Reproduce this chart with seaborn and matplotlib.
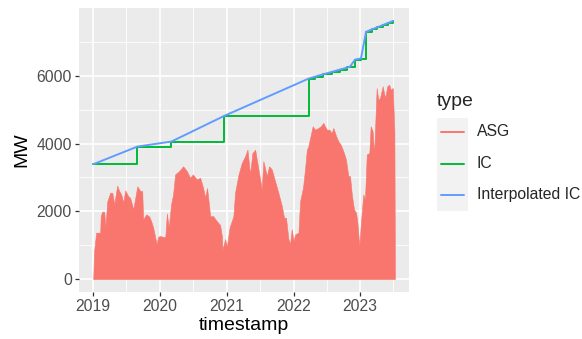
import numpy as np
import pandas as pd
import matplotlib
matplotlib.use("Agg")
import matplotlib.pyplot as plt
import matplotlib.dates as mdates
from matplotlib.lines import Line2D
from matplotlib.patches import Rectangle
import seaborn as sns

# ---------------- data ----------------
asg_dates = [
    "2019-01-01", "2019-01-03", "2019-01-06", "2019-01-17", "2019-02-08", "2019-02-11",
    "2019-02-19", "2019-03-02", "2019-03-08", "2019-03-19", "2019-04-04", "2019-04-15",
    "2019-04-26", "2019-05-12", "2019-05-23", "2019-06-03", "2019-06-14", "2019-06-25",
    "2019-07-11", "2019-07-22", "2019-08-08", "2019-08-30", "2019-09-15", "2019-09-26",
    "2019-10-01", "2019-10-18", "2019-11-03", "2019-11-14", "2019-11-25", "2019-12-14",
    "2019-12-22", "2020-01-02", "2020-01-30", "2020-02-08", "2020-02-18", "2020-03-02",
    "2020-03-13", "2020-03-24", "2020-04-15", "2020-05-07", "2020-05-27", "2020-06-14",
    "2020-06-29", "2020-07-21", "2020-08-08", "2020-08-24", "2020-09-04", "2020-09-15",
    "2020-10-02", "2020-10-18", "2020-11-07", "2020-11-25", "2020-12-05", "2020-12-08",
    "2020-12-23", "2021-01-01", "2021-01-16", "2021-02-06", "2021-02-15", "2021-03-06",
    "2021-03-24", "2021-04-11", "2021-04-24", "2021-05-08", "2021-05-21", "2021-06-05",
    "2021-06-23", "2021-07-11", "2021-07-20", "2021-08-08", "2021-08-20", "2021-09-04",
    "2021-09-22", "2021-10-10", "2021-10-29", "2021-11-10", "2021-11-21", "2021-12-04",
    "2021-12-13", "2021-12-22", "2022-01-01", "2022-01-10", "2022-01-28", "2022-02-06",
    "2022-02-22", "2022-03-05", "2022-03-15", "2022-03-23", "2022-04-02", "2022-04-16",
    "2022-04-29", "2022-05-17", "2022-05-30", "2022-06-13", "2022-07-02", "2022-07-16",
    "2022-07-29", "2022-08-07", "2022-08-22", "2022-09-03", "2022-09-16", "2022-10-01",
    "2022-10-15", "2022-10-28", "2022-11-06", "2022-11-16", "2022-11-28", "2022-12-09",
    "2022-12-16", "2022-12-27", "2023-01-05", "2023-01-18", "2023-01-27", "2023-02-06",
    "2023-02-20", "2023-02-27", "2023-03-10", "2023-03-18", "2023-04-01", "2023-04-10",
    "2023-04-19", "2023-05-04", "2023-05-17", "2023-05-29", "2023-06-08", "2023-06-17",
    "2023-06-28", "2023-07-07", "2023-07-10",
]
asg_mw = [
    0, 400, 830, 1370, 1370, 1860,
    1990, 1990, 1530, 2300, 2550, 2550,
    2210, 2760, 2600, 2500, 2260, 2620,
    2450, 2400, 2060, 2740, 2600, 2600,
    1760, 1910, 1850, 1710, 1520, 1030,
    1250, 1270, 1230, 1940, 1520, 2210,
    2500, 3090, 3190, 3330, 3190, 2990,
    3090, 2940, 2990, 2700, 2410, 2690,
    1860, 1860, 1710, 1600, 1270, 880,
    1180, 950, 1520, 1860, 2550, 3090,
    3430, 3630, 3820, 3090, 3720, 3820,
    3240, 2650, 3480, 3040, 3330, 3240,
    2890, 2550, 2160, 1810, 1810, 1180,
    1030, 1470, 1130, 1320, 1370, 2300,
    2700, 3240, 3820, 3920, 4170, 4510,
    4410, 4460, 4510, 4610, 4410, 4410,
    4310, 4460, 4220, 4070, 3970, 3770,
    3530, 3040, 3040, 2500, 2060, 1960,
    1710, 980, 1670, 2500, 2350, 3680,
    3720, 4510, 4360, 3680, 5640, 5290,
    5340, 5690, 5340, 5690, 5740, 5590,
    5640, 4360, 0,
]

ic_dates = [
    "2019-01-01", "2019-08-30", "2020-03-04", "2020-12-19", "2022-03-26",
    "2022-04-29", "2022-06-13", "2022-07-29", "2022-09-13", "2022-10-23",
    "2022-11-06", "2022-12-04", "2023-01-05", "2023-02-02", "2023-03-05",
    "2023-04-05", "2023-05-04", "2023-06-04", "2023-06-30",
]
ic_mw = [
    3390, 3910, 4060, 4820, 5920,
    5975, 6045, 6115, 6185, 6245,
    6270, 6480, 6510, 7300, 7367,
    7432, 7495, 7561, 7620,
]

series_names = ["ASG", "IC", "Interpolated IC"]
series_colors = ["#F8766D", "#00BA38", "#619CFF"]
year_ticks = ["2019", "2020", "2021", "2022", "2023"]
mw_ticks = [0, 2000, 4000, 6000]

# ---------------- frames ----------------
asg = pd.DataFrame({"timestamp": pd.to_datetime(asg_dates), "MW": asg_mw})
ic = pd.DataFrame({"timestamp": pd.to_datetime(ic_dates), "MW": ic_mw})

# ---------------- style ----------------
sns.set_theme(style="darkgrid")
plt.rcParams["font.family"] = ["Liberation Sans", "DejaVu Sans"]

W, H = 582, 339
fig = plt.figure(figsize=(W / 100, H / 100), dpi=100)
L, R, T, B = 79, 409, 8, 292
ax = fig.add_axes([L / W, 1 - B / H, (R - L) / W, (B - T) / H])
ax.set_facecolor("#EBEBEB")
for s in ax.spines.values():
    s.set_visible(False)

# ASG filled area
ax.fill_between(asg["timestamp"], 0, asg["MW"], color=series_colors[0],
                linewidth=0.4, edgecolor=series_colors[0], zorder=2)

sns.lineplot(data=ic, x="timestamp", y="MW", ax=ax, color=series_colors[1],
             drawstyle="steps-post", linewidth=1.4, zorder=3, legend=False)
sns.lineplot(data=ic, x="timestamp", y="MW", ax=ax, color=series_colors[2],
             linewidth=1.4, zorder=4, legend=False)

# scales
ax.set_ylim(-381, 8001)
ax.set_xlim(pd.Timestamp("2018-10-15"), pd.Timestamp("2023-09-25"))
ax.set_yticks(mw_ticks)
ax.set_yticks([1000, 3000, 5000, 7000], minor=True)
ax.set_xticks(pd.to_datetime([y + "-01-01" for y in year_ticks]))
ax.set_xticklabels(year_ticks)
ax.xaxis.set_minor_locator(mdates.MonthLocator(bymonth=7))

ax.grid(which="major", color="white", linewidth=1.2)
ax.grid(which="minor", color="white", linewidth=0.6)
ax.set_axisbelow(True)
ax.tick_params(axis="both", which="major", length=3.2, width=0.9, color="#333333",
               labelsize=11.3, labelcolor="#4D4D4D", pad=2, direction="out")
ax.tick_params(axis="both", which="minor", length=0)
ax.tick_params(axis="x", bottom=True)
ax.tick_params(axis="y", left=True)

ax.set_xlabel("timestamp", fontsize=14, color="black", labelpad=2)
ax.set_ylabel("MW", fontsize=14, color="black", labelpad=4)

# ---------------- legend ----------------
fig.text(437 / W, 1 - 101 / H, "type", fontsize=14, va="center", ha="left")
fig.add_artist(Rectangle((437 / W, 1 - 211 / H), 31 / W, 93 / H,
                         transform=fig.transFigure, facecolor="#F2F2F2",
                         edgecolor="none"))
rows = [132, 164, 195]
for name, col, yy in zip(series_names, series_colors, rows):
    fig.add_artist(Line2D([441 / W, 464 / W], [1 - yy / H, 1 - yy / H],
                          transform=fig.transFigure, color=col, linewidth=1.4))
    fig.text(477 / W, 1 - yy / H, name, fontsize=11.3, va="center", ha="left")

fig.savefig("out.png", dpi=100)
